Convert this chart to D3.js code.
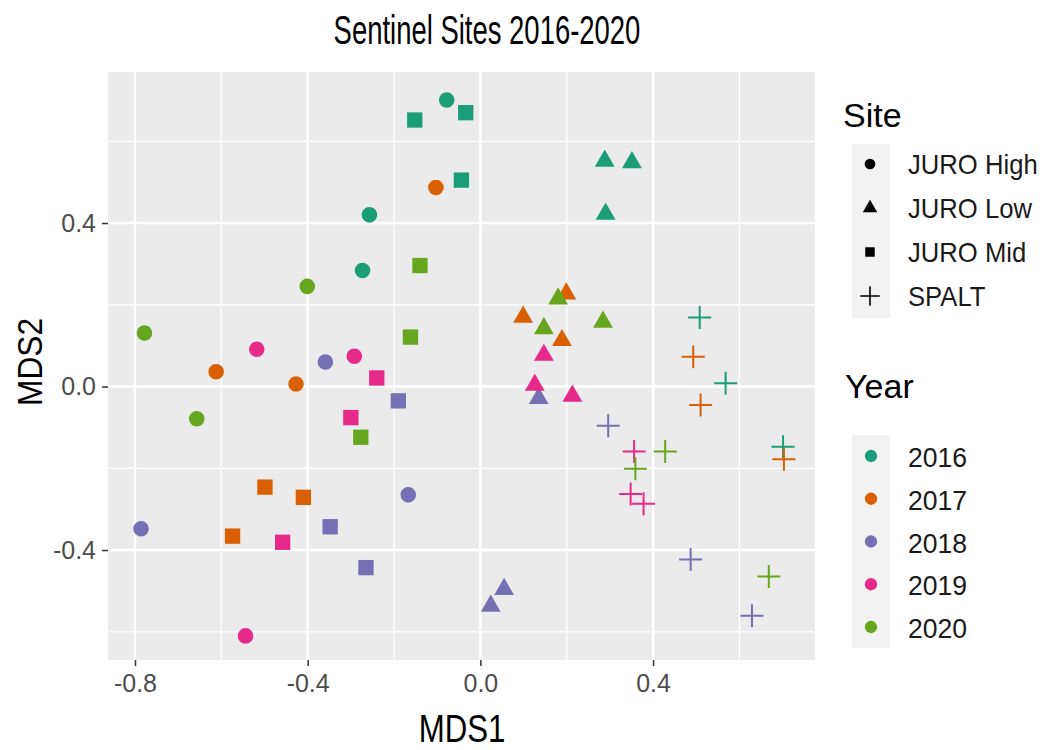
<!DOCTYPE html>
<html>
<head>
<meta charset="utf-8">
<script src="https://cdn.jsdelivr.net/npm/d3@7"></script>
<style>
  body { margin: 0; background: #fff; }
  text { font-family: "Liberation Sans", Arial, sans-serif; }
</style>
</head>
<body>
<div id="plot"></div>
<script>
// NMDS scores
const mds1 = [
  // JURO High
  -0.078, -0.257, -0.273,  -0.103, -0.612, -0.427,  -0.359, -0.167, -0.786,  -0.518, -0.292, -0.544,  -0.401, -0.778, -0.657,
  // JURO Low
  0.288, 0.351, 0.290,  0.099, 0.189, 0.199,  0.135, 0.055, 0.024,  0.147, 0.126, 0.213,  0.180, 0.147, 0.284,
  // JURO Mid
  -0.152, -0.034, -0.044,  -0.499, -0.410, -0.574,  -0.190, -0.348, -0.265,  -0.240, -0.300, -0.458,  -0.140, -0.162, -0.277,
  // SPALT
  0.508, 0.568, 0.701,  0.493, 0.510, 0.703,  0.296, 0.487, 0.629,  0.356, 0.348, 0.378,  0.428, 0.359, 0.668
];
const mds2 = [
  0.701, 0.420, 0.284,  0.487, 0.036, 0.006,  0.060, -0.265, -0.348,  0.091, 0.074, -0.610,  0.245, 0.131, -0.079,
  0.552, 0.548, 0.422,  0.170, 0.113, 0.227,  -0.029, -0.496, -0.537,  0.077, 0.004, -0.023,  0.215, 0.142, 0.158,
  0.652, 0.670, 0.505,  -0.246, -0.271, -0.366,  -0.035, -0.343, -0.443,  0.021, -0.076, -0.381,  0.296, 0.121, -0.124,
  0.169, 0.008, -0.147,  0.073, -0.045, -0.178,  -0.096, -0.423, -0.561,  -0.159, -0.263, -0.287,  -0.159, -0.201, -0.465
];
const siteNames = ["JURO High", "JURO Low", "JURO Mid", "SPALT"];
const yearNames = ["2016", "2017", "2018", "2019", "2020"];
const site = mds1.map((d, i) => siteNames[Math.floor(i / 15)]);
const year = mds1.map((d, i) => yearNames[Math.floor((i % 15) / 3)]);
const xTicks = [-0.8, -0.4, 0.0, 0.4];
const yTicks = [-0.4, 0.0, 0.4];

const W = 1047, H = 750;
const panel = { left: 108, right: 815, top: 72, bottom: 660 };

const svg = d3.select("#plot").append("svg")
    .attr("width", W).attr("height", H);

const x = d3.scaleLinear().domain([-0.8625, 0.775]).range([panel.left, panel.right]);
const y = d3.scaleLinear().domain([-0.669, 0.7695]).range([panel.bottom, panel.top]);

const color = d3.scaleOrdinal().domain(yearNames)
    .range(["#1B9E77", "#D95F02", "#7570B3", "#E7298A", "#66A61E"]);

// thin "+" like ggplot shape 3
const plusSymbol = {
    draw(ctx, size) {
        const r = Math.sqrt(size) / 2;
        ctx.moveTo(-r, 0); ctx.lineTo(r, 0);
        ctx.moveTo(0, -r); ctx.lineTo(0, r);
    }
};
const shapeType = d3.scaleOrdinal().domain(siteNames)
    .range([d3.symbolCircle, d3.symbolTriangle, d3.symbolSquare, plusSymbol]);
const shapeSize = d3.scaleOrdinal().domain(siteNames).range([190, 170, 235, 529]);

// panel background and grid
svg.append("rect")
    .attr("x", panel.left).attr("y", panel.top)
    .attr("width", panel.right - panel.left).attr("height", panel.bottom - panel.top)
    .attr("fill", "#EBEBEB");

const xMinor = [-0.6, -0.2, 0.2, 0.6];
const yMinor = [-0.6, -0.2, 0.2, 0.6];
const grid = svg.append("g");
grid.selectAll(".xminor").data(xMinor).enter().append("line")
    .attr("x1", d => x(d)).attr("x2", d => x(d))
    .attr("y1", panel.top).attr("y2", panel.bottom)
    .attr("stroke", "#fff").attr("stroke-width", 1.2);
grid.selectAll(".yminor").data(yMinor).enter().append("line")
    .attr("y1", d => y(d)).attr("y2", d => y(d))
    .attr("x1", panel.left).attr("x2", panel.right)
    .attr("stroke", "#fff").attr("stroke-width", 1.2);
grid.selectAll(".xmajor").data(xTicks).enter().append("line")
    .attr("x1", d => x(d)).attr("x2", d => x(d))
    .attr("y1", panel.top).attr("y2", panel.bottom)
    .attr("stroke", "#fff").attr("stroke-width", 2.4);
grid.selectAll(".ymajor").data(yTicks).enter().append("line")
    .attr("y1", d => y(d)).attr("y2", d => y(d))
    .attr("x1", panel.left).attr("x2", panel.right)
    .attr("stroke", "#fff").attr("stroke-width", 2.4);

// axes
const fmt = d => d3.format(".1f")(d).replace("−", "-");
const xAxis = svg.append("g")
    .attr("transform", `translate(0,${panel.bottom})`)
    .call(d3.axisBottom(x).tickValues(xTicks).tickFormat(fmt).tickSize(6).tickPadding(8));
const yAxis = svg.append("g")
    .attr("transform", `translate(${panel.left},0)`)
    .call(d3.axisLeft(y).tickValues(yTicks).tickFormat(fmt).tickSize(6).tickPadding(6));
[xAxis, yAxis].forEach(a => {
    a.select(".domain").remove();
    a.selectAll(".tick line").attr("stroke", "#333").attr("stroke-width", 1.5);
    a.selectAll(".tick text")
        .attr("fill", "#4D4D4D")
        .style("font-size", "25px")
        .style("font-family", "'Liberation Sans', Arial, sans-serif");
});

// points
const pts = mds1.map((d, i) => ({ x: d, y: mds2[i], site: site[i], year: year[i] }));
const order = d3.range(pts.length).sort((a, b) =>
    yearNames.indexOf(pts[a].year) - yearNames.indexOf(pts[b].year) || a - b);
svg.append("g").selectAll("path")
    .data(order.map(i => pts[i]))
    .enter().append("path")
    .attr("transform", d => `translate(${x(d.x)},${y(d.y)})`)
    .attr("d", d => d3.symbol().type(shapeType(d.site)).size(shapeSize(d.site))())
    .attr("fill", d => d.site === "SPALT" ? "none" : color(d.year))
    .attr("stroke", d => d.site === "SPALT" ? color(d.year) : "none")
    .attr("stroke-width", 2);

// text helper with horizontal squeeze
function label(g, str, tx, ty, size, k, anchor, rot) {
    return g.append("text")
        .attr("transform", `translate(${tx},${ty})` + (rot ? ` rotate(${rot})` : "") + ` scale(${k},1)`)
        .attr("text-anchor", anchor)
        .style("font-size", size + "px")
        .attr("fill", "#000")
        .text(str);
}

label(svg, "Sentinel Sites 2016-2020", 487, 44, 41, 0.67, "middle");
label(svg, "MDS1", 462, 742, 39, 0.8, "middle");
label(svg, "MDS2", 42, 362, 36, 0.88, "middle", -90);

// legends
const lg = svg.append("g");
label(lg, "Site", 843, 127, 34, 1.0, "start");
const siteKeyY = d3.scalePoint().domain(siteNames).range([164, 296]);
lg.append("rect").attr("x", 852).attr("y", 144).attr("width", 38).attr("height", 174).attr("fill", "#F2F2F2");
siteNames.forEach(s => {
    lg.append("path")
        .attr("transform", `translate(870,${siteKeyY(s)})`)
        .attr("d", d3.symbol().type(shapeType(s)).size(s === "SPALT" ? 380 : 90)())
        .attr("fill", s === "SPALT" ? "none" : "#000")
        .attr("stroke", s === "SPALT" ? "#000" : "none")
        .attr("stroke-width", 1.6);
    label(lg, s, 908, siteKeyY(s) + 10, 27, 0.95, "start").attr("fill", "#1a1a1a");
});

label(lg, "Year", 845, 398, 34, 1.0, "start");
const yearKeyY = d3.scalePoint().domain(yearNames).range([456, 627]);
lg.append("rect").attr("x", 852).attr("y", 435).attr("width", 38).attr("height", 213).attr("fill", "#F2F2F2");
yearNames.forEach(yr => {
    lg.append("path")
        .attr("transform", `translate(871,${yearKeyY(yr)})`)
        .attr("d", d3.symbol().type(d3.symbolCircle).size(120)())
        .attr("fill", color(yr));
    label(lg, yr, 908, yearKeyY(yr) + 11, 28, 0.95, "start").attr("fill", "#1a1a1a");
});
</script>
</body>
</html>
